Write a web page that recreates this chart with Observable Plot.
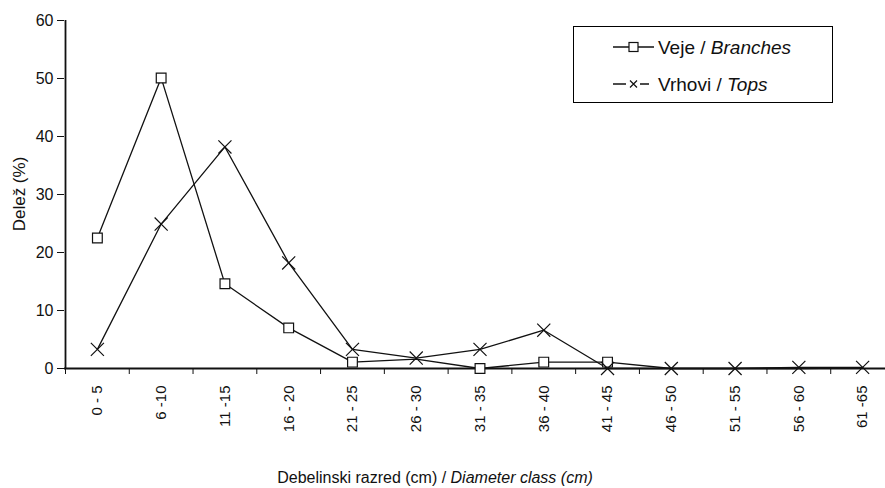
<!DOCTYPE html>
<html><head><meta charset="utf-8">
<script src="https://cdn.jsdelivr.net/npm/d3@7"></script>
<script src="https://cdn.jsdelivr.net/npm/@observablehq/plot@0.6"></script>
<style>
body{margin:0;background:#fff;}
#wrap{position:relative;width:885px;height:488px;overflow:hidden;font-family:"Liberation Sans",Arial,sans-serif;color:#111;}
#wrap svg{overflow:hidden;}
#legend{position:absolute;left:573px;top:26px;width:258px;height:75px;border:1px solid #000;background:#fff;}
</style></head><body><div id="wrap"></div>
<script>
const categories = ["0 - 5","6 -10","11 -15","16 - 20","21 - 25","26 - 30","31 - 35","36 - 40","41 - 45","46 - 50","51 - 55","56 - 60","61 -65"];
const branchesValues = [22.5, 50.1, 14.6, 7.0, 1.1, 1.6, 0, 1.1, 1.1, 0, 0, 0, 0.1];
const topsValues = [3.3, 24.9, 38.2, 18.2, 3.3, 1.8, 3.3, 6.6, 0, 0, 0, 0.2, 0.2];
const branchesNoMarker = ["26 - 30","46 - 50","51 - 55","56 - 60","61 -65"];
const yTicks = [0, 10, 20, 30, 40, 50, 60];
const seriesNames = [["Veje / ", "Branches"], ["Vrhovi / ", "Tops"]];
const xTitle = ["Debelinski razred (cm) / ", "Diameter class (cm)"];
const yTitle = "Delež (%)";

const branches = categories.map((c, i) => ({c, i, v: branchesValues[i]}));
const tops = categories.map((c, i) => ({c, i, v: topsValues[i]}));
const ink = "#111";

const plot = Plot.plot({
  width: 885, height: 488,
  marginLeft: 64, marginTop: 20, marginBottom: 120, marginRight: 0,
  style: {fontFamily: '"Liberation Sans", Arial, sans-serif', fontSize: "15px", color: ink, background: "white"},
  x: {type: "linear", domain: [-0.5, categories.length - 0.5], range: [65, 894]},
  y: {domain: [0, 60]},
  marks: [
    Plot.axisY({ticks: yTicks, tickSize: 7, tickPadding: 4, fontSize: 16, label: null, stroke: ink}),
    Plot.axisX({ticks: d3.range(-0.5, categories.length + 0.5, 1), tickSize: 6, tickFormat: () => "", label: null, stroke: ink}),
    Plot.axisX({ticks: d3.range(categories.length), tickSize: 0, tickPadding: 17, tickRotate: -90, tickFormat: i => categories[i], fontSize: 15, label: null}),
    Plot.ruleY([0], {stroke: ink, strokeWidth: 1.8}),
    Plot.ruleX([-0.5], {y1: 0, y2: 60, stroke: ink, strokeWidth: 1.8}),
    Plot.line(branches, {x: "i", y: "v", stroke: ink, strokeWidth: 1.3}),
    Plot.line(tops, {x: "i", y: "v", stroke: ink, strokeWidth: 1.3}),
    Plot.dot(branches.filter(d => !branchesNoMarker.includes(d.c)), {x: "i", y: "v", symbol: "square", r: 5.5, fill: "white", stroke: ink, strokeWidth: 1.2}),
    Plot.dot(tops, {x: "i", y: "v", symbol: "times", r: 6, stroke: ink, strokeWidth: 1.2})
  ]
});
document.getElementById("wrap").appendChild(plot);

const svg = d3.select(plot);
const xt = svg.append("text").attr("x", 435).attr("y", 483).attr("text-anchor", "middle")
  .attr("font-size", 16).attr("fill", ink);
xt.append("tspan").text(xTitle[0]);
xt.append("tspan").attr("font-style", "italic").text(xTitle[1]);
svg.append("text").attr("transform", "translate(25,194) rotate(-90)").attr("text-anchor", "middle")
  .attr("font-size", 17).attr("fill", ink).text(yTitle);

// legend
const leg = d3.select("#wrap").append("div").attr("id", "legend");
const ls = leg.append("svg").attr("width", 258).attr("height", 75);
const rows = [20, 57];
ls.append("line").attr("x1", 39).attr("x2", 80).attr("y1", rows[0]).attr("y2", rows[0]).attr("stroke", ink).attr("stroke-width", 1.5);
ls.append("rect").attr("x", 55).attr("y", rows[0] - 4.5).attr("width", 9).attr("height", 9).attr("fill", "white").attr("stroke", ink).attr("stroke-width", 1.2);
ls.append("line").attr("x1", 39).attr("x2", 52).attr("y1", rows[1]).attr("y2", rows[1]).attr("stroke", ink).attr("stroke-width", 1.5);
ls.append("line").attr("x1", 66).attr("x2", 75).attr("y1", rows[1]).attr("y2", rows[1]).attr("stroke", ink).attr("stroke-width", 1.5);
ls.append("path").attr("d", `M56,${rows[1]-3.5}L63,${rows[1]+3.5}M56,${rows[1]+3.5}L63,${rows[1]-3.5}`).attr("stroke", ink).attr("stroke-width", 1.2);
seriesNames.forEach((n, k) => {
  const t = ls.append("text").attr("x", 84).attr("y", rows[k]).attr("dy", "0.35em").attr("font-size", 19).attr("fill", ink);
  t.append("tspan").text(n[0]);
  t.append("tspan").attr("font-style", "italic").text(n[1]);
});
</script>
</body></html>
